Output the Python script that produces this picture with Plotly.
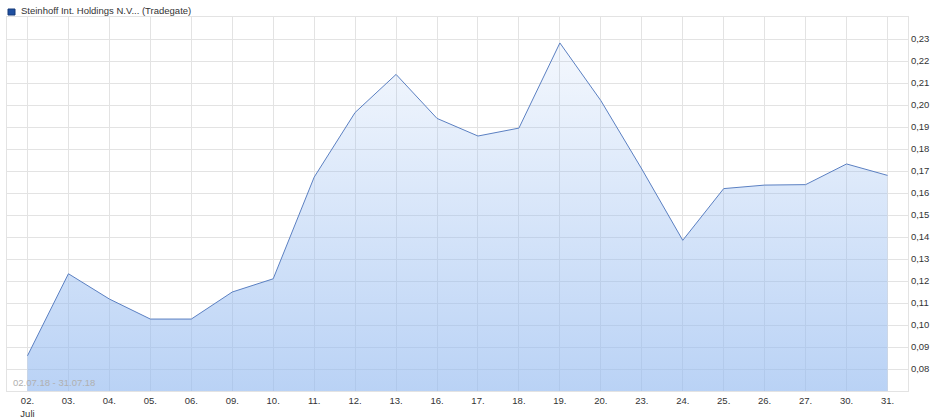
"""Steinhoff Int. Holdings N.V. (Tradegate) - daily closes, July 2018."""

import plotly.graph_objects as go

# Trading days and closing prices (EUR)
dates = [
    "02.07.18", "03.07.18", "04.07.18", "05.07.18", "06.07.18",
    "09.07.18", "10.07.18", "11.07.18", "12.07.18", "13.07.18",
    "16.07.18", "17.07.18", "18.07.18", "19.07.18", "20.07.18",
    "23.07.18", "24.07.18", "25.07.18", "26.07.18", "27.07.18",
    "30.07.18", "31.07.18",
]
prices = [
    0.0860, 0.1233, 0.1118, 0.1027, 0.1027,
    0.1150, 0.1210, 0.1672, 0.1966, 0.2139,
    0.1939, 0.1859, 0.1895, 0.2282, 0.2020,
    0.1709, 0.1385, 0.1620, 0.1636, 0.1638,
    0.1732, 0.1680,
]
tick_labels = [
    "02.<br>Juli", "03.", "04.", "05.", "06.",
    "09.", "10.", "11.", "12.", "13.",
    "16.", "17.", "18.", "19.", "20.",
    "23.", "24.", "25.", "26.", "27.",
    "30.", "31.",
]
y_ticks = [0.08, 0.09, 0.10, 0.11, 0.12, 0.13, 0.14, 0.15,
           0.16, 0.17, 0.18, 0.19, 0.20, 0.21, 0.22, 0.23]

series_name = "Steinhoff Int. Holdings N.V... (Tradegate)"
period_text = "02.07.18 - 31.07.18"

FONT = "Liberation Sans, Arial, sans-serif"
GRID = "#e3e3e3"

fig = go.Figure()
fig.add_trace(
    go.Scatter(
        x=dates,
        y=prices,
        mode="lines",
        line=dict(color="#5b80c2", width=1),
        fill="tozeroy",
        fillgradient=dict(
            type="vertical",
            start=0.07,
            stop=0.24,
            colorscale=[
                [0.0, "rgba(148,186,240,0.65)"],
                [1.0, "rgba(148,186,240,0.06)"],
            ],
        ),
        showlegend=False,
        hoverinfo="x+y",
    )
)

fig.update_layout(
    template="none",
    width=941,
    height=420,
    margin=dict(l=7, r=33, t=17, b=29),
    paper_bgcolor="white",
    plot_bgcolor="white",
    separators=",.",
    font=dict(family=FONT, size=9.5, color="#333333"),
    xaxis=dict(
        type="category",
        range=[-0.5, len(dates) - 0.5],
        tickvals=dates,
        ticktext=tick_labels,
        ticklabelstandoff=1,
        showgrid=True,
        gridcolor=GRID,
        gridwidth=1,
        showline=True,
        linecolor=GRID,
        mirror=True,
        ticks="",
        zeroline=False,
        automargin=False,
        fixedrange=True,
    ),
    yaxis=dict(
        side="right",
        range=[0.07, 0.24],
        tickvals=y_ticks,
        tickformat=".2f",
        showgrid=True,
        gridcolor=GRID,
        gridwidth=1,
        showline=True,
        linecolor=GRID,
        mirror=True,
        ticks="",
        zeroline=False,
        automargin=False,
        fixedrange=True,
    ),
    shapes=[
        # legend swatch
        dict(
            type="rect",
            xref="paper", yref="paper",
            xsizemode="pixel", ysizemode="pixel",
            xanchor=0, yanchor=1,
            x0=1, x1=8, y0=2, y1=8,
            fillcolor="#1f4fa0",
            line=dict(color="#163a78", width=1),
        ),
    ],
    annotations=[
        dict(
            text=series_name,
            xref="paper", yref="paper",
            x=0, y=1, xshift=12, yshift=-1,
            xanchor="left", yanchor="bottom",
            showarrow=False,
            font=dict(family=FONT, size=9.5, color="#333333"),
        ),
        dict(
            text=period_text,
            xref="paper", yref="paper",
            x=0, y=0, xshift=4, yshift=1,
            xanchor="left", yanchor="bottom",
            showarrow=False,
            font=dict(family=FONT, size=9.5, color="#b0b0b0"),
        ),
    ],
)

# the page body has an 8px default margin; drop it so the chart sits at 0,0
fig.write_html(
    "out.html",
    config={"displayModeBar": False},
    post_script="document.body.style.margin='0';",
)
